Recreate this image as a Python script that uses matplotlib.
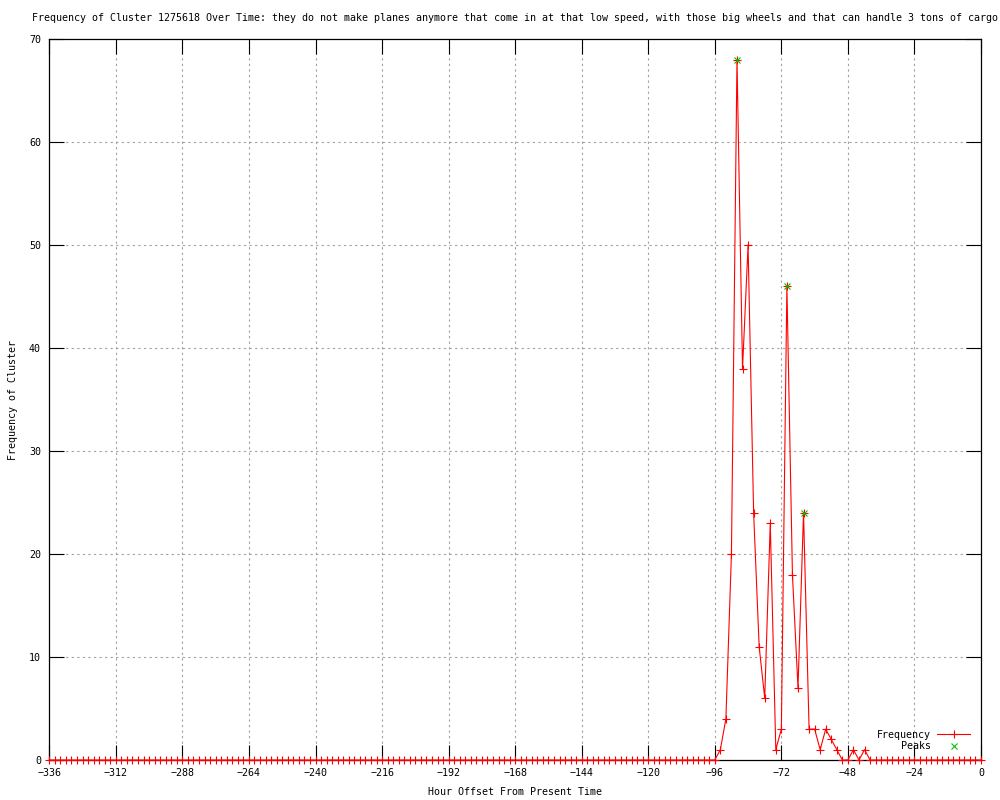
import matplotlib
matplotlib.use('Agg')
import matplotlib.pyplot as plt
from matplotlib.lines import Line2D

plt.rcParams['font.family'] = ['DejaVu Sans Mono']
plt.rcParams['font.size'] = 7.2

# hours before now, one point every 2 hours
hours = list(range(-336, 1, 2))
freq = [
    0, 0, 0, 0, 0, 0, 0, 0, 0, 0, 0, 0, 0, 0, 0, 0, 0, 0, 0, 0,
    0, 0, 0, 0, 0, 0, 0, 0, 0, 0, 0, 0, 0, 0, 0, 0, 0, 0, 0, 0,
    0, 0, 0, 0, 0, 0, 0, 0, 0, 0, 0, 0, 0, 0, 0, 0, 0, 0, 0, 0,
    0, 0, 0, 0, 0, 0, 0, 0, 0, 0, 0, 0, 0, 0, 0, 0, 0, 0, 0, 0,
    0, 0, 0, 0, 0, 0, 0, 0, 0, 0, 0, 0, 0, 0, 0, 0, 0, 0, 0, 0,
    0, 0, 0, 0, 0, 0, 0, 0, 0, 0, 0, 0, 0, 0, 0, 0, 0, 0, 0, 0,
    0,                                   # -96
    1, 4, 20, 68, 38, 50, 24, 11, 6, 23,  # -94 .. -76
    1, 3, 46, 18, 7, 24, 3, 3, 1, 3,      # -74 .. -56
    2, 1, 0, 0, 1, 0, 1,                  # -54 .. -42
    0, 0, 0, 0, 0, 0, 0, 0, 0, 0, 0, 0, 0, 0, 0, 0, 0, 0, 0, 0, 0,  # -40 .. 0
]
peak_hours = [-88, -70, -64]
peak_vals = [68, 46, 24]

x_ticks = list(range(-336, 1, 24))
y_ticks = list(range(0, 71, 10))

fig = plt.figure(figsize=(10, 8), dpi=100)
ax = fig.add_axes([0.0493, 0.05, 0.9317, 0.90125])

ax.plot(hours, freq, color='red', lw=0.8, marker='+', ms=5.5, mew=0.8,
        clip_on=False, zorder=3)
ax.plot(peak_hours, peak_vals, ls='none', color='#00c000', marker='x',
        ms=5, mew=0.8, clip_on=False, zorder=4)

ax.set_xlim(-336, 0)
ax.set_ylim(0, 70)
ax.set_xticks(x_ticks)
ax.set_yticks(y_ticks)
ax.tick_params(direction='in', length=11, width=0.8, top=True, right=True,
               labeltop=False, labelright=False, pad=6)
for s in ax.spines.values():
    s.set_linewidth(0.9)

for xv in x_ticks[1:-1]:
    ax.axvline(xv, color='#a0a0a0', lw=0.8, ls=(0, (2, 3)), zorder=1)
for yv in y_ticks[1:-1]:
    ax.axhline(yv, color='#a0a0a0', lw=0.8, ls=(0, (2, 3)), zorder=1)

ax.set_title('Frequency of Cluster 1275618 Over Time: they do not make planes anymore that come in at that low speed, with those big wheels and that can handle 3 tons of cargo',
             fontsize=7.2, pad=13)
ax.set_xlabel('Hour Offset From Present Time', labelpad=6)
ax.set_ylabel('Frequency of Cluster', labelpad=8)

handles = [
    Line2D([], [], color='red', lw=0.8, marker='+', ms=5.5, mew=0.8, markevery=[1]),
    Line2D([], [], color='#00c000', ls='none', marker='x', ms=5, mew=0.8),
]
leg = ax.legend(handles, ['Frequency', 'Peaks'], loc='lower right',
                frameon=False, markerfirst=False, handlelength=3.3,
                handletextpad=0.6, labelspacing=0.15,
                bbox_to_anchor=(0.998, 0.0))
for t in leg.get_texts():
    t.set_ha('right')

fig.savefig('out.png', dpi=100)
